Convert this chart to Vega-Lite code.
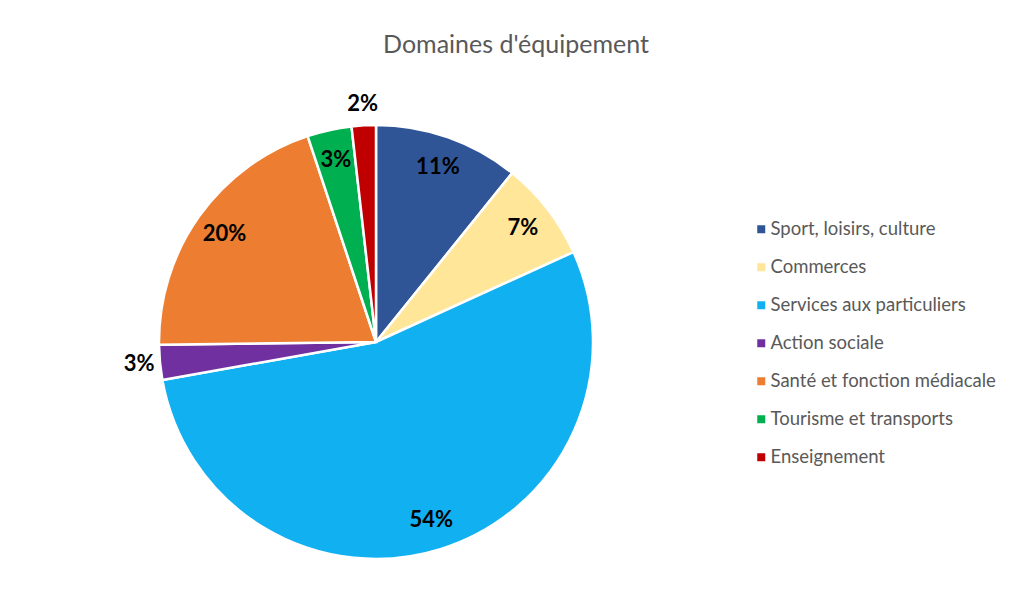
{
  "$schema": "https://vega.github.io/schema/vega-lite/v6.json",
  "autosize": "none",
  "width": 480,
  "height": 480,
  "padding": {"left": 136, "top": 102, "right": 394, "bottom": 31},
  "background": "white",
  "title": {
    "text": "Domaines d'équipement",
    "font": "Lato",
    "fontSize": 25,
    "fontWeight": "normal",
    "color": "#595959",
    "anchor": "middle",
    "dx": 140,
    "offset": 35
  },
  "data": {
    "values": [
      {"domaine": "Sport, loisirs, culture", "value": 0.108, "ordre": 1},
      {"domaine": "Commerces", "value": 0.074, "ordre": 2},
      {"domaine": "Services aux particuliers", "value": 0.540, "ordre": 3},
      {"domaine": "Action sociale", "value": 0.026, "ordre": 4},
      {"domaine": "Santé et fonction médiacale", "value": 0.201, "ordre": 5},
      {"domaine": "Tourisme et transports", "value": 0.033, "ordre": 6},
      {"domaine": "Enseignement", "value": 0.018, "ordre": 7}
    ]
  },
  "encoding": {
    "theta": {"field": "value", "type": "quantitative", "stack": true},
    "order": {"field": "ordre", "type": "quantitative"}
  },
  "layer": [
    {
      "mark": {"type": "arc", "outerRadius": 217, "stroke": "white", "strokeWidth": 2.5},
      "encoding": {
        "color": {
          "field": "domaine",
          "type": "nominal",
          "scale": {
            "domain": ["Sport, loisirs, culture", "Commerces", "Services aux particuliers", "Action sociale", "Santé et fonction médiacale", "Tourisme et transports", "Enseignement"],
            "range": ["#2F5597", "#FFE699", "#11B0F0", "#7030A0", "#ED7D31", "#00B050", "#C00000"]
          },
          "legend": {
            "title": null,
            "orient": "none",
            "legendX": 616,
            "legendY": 118,
            "symbolType": "square",
            "symbolSize": 64,
            "symbolStrokeWidth": 0,
            "labelFont": "Lato",
            "labelFontSize": 18.5,
            "labelColor": "#595959",
            "rowPadding": 19,
            "labelOffset": 0,
            "labelLimit": 400
          }
        }
      }
    },
    {
      "mark": {"type": "text", "radius": 186, "font": "Lato", "fontSize": 22, "fontWeight": "bold", "color": "black"},
      "encoding": {
        "text": {
          "condition": {"test": "datum.value < 0.03", "value": ""},
          "field": "value", "type": "quantitative", "format": ".0%"
        }
      }
    },
    {
      "mark": {"type": "text", "radius": 238, "font": "Lato", "fontSize": 22, "fontWeight": "bold", "color": "black"},
      "encoding": {
        "text": {
          "condition": {"test": "datum.value >= 0.03", "value": ""},
          "field": "value", "type": "quantitative", "format": ".0%"
        }
      }
    }
  ],
  "config": {"view": {"stroke": null}}
}
